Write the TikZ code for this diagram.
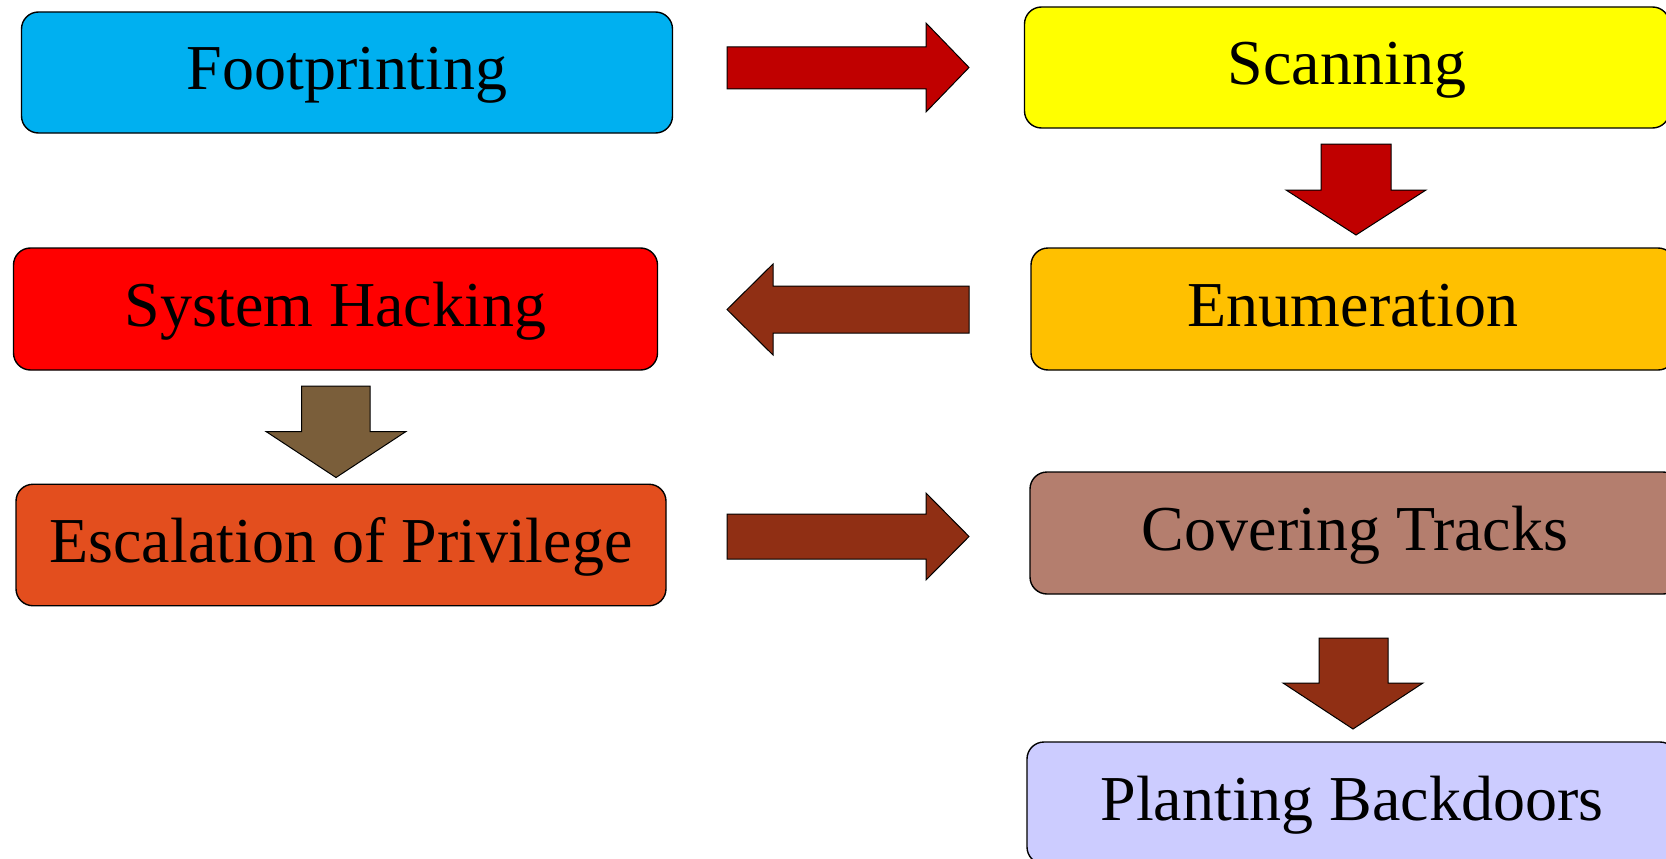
\documentclass[tikz,border=0pt]{standalone}
\usepackage{fontspec}
\setmainfont{Liberation Serif}
\definecolor{fpblue}{HTML}{00B0F0}
\definecolor{scyellow}{HTML}{FFFF00}
\definecolor{shred}{HTML}{FF0000}
\definecolor{enorange}{HTML}{FFC000}
\definecolor{eporange}{HTML}{E34E1E}
\definecolor{ctbrown}{HTML}{B47E6E}
\definecolor{pblav}{HTML}{CCCCFF}
\definecolor{arrred}{HTML}{C00000}
\definecolor{arrbrown}{HTML}{902F14}
\definecolor{arrolive}{HTML}{7A5E3A}
\tikzset{
  stage/.style={draw=black, line width=1.4pt, rounded corners=17pt,
    inner sep=0pt, text height=50pt, text depth=16pt,
    font=\fontsize{64}{70}\selectfont},
  blockarrow/.style={draw=black, line width=1pt, line join=miter}
}
\begin{document}
\begin{tikzpicture}[x=1pt,y=-1pt]
\useasboundingbox (0,0) rectangle (1666,859);
\clip (0,0) rectangle (1666,859);
\fill[white] (0,0) rectangle (1666,859);

% stage boxes
\node[stage, fill=fpblue,   minimum width=651pt, minimum height=121pt] (fp) at (347,72.5) {Footprinting};
\node[stage, fill=scyellow, minimum width=645pt, minimum height=121pt] (sc) at (1347,67.5) {Scanning};
\node[stage, fill=shred,    minimum width=644pt, minimum height=122pt] (sh) at (335.5,309) {System Hacking};
\node[stage, fill=enorange, minimum width=644pt, minimum height=122pt] (en) at (1353,309) {Enumeration};
\node[stage, fill=eporange, minimum width=650pt, minimum height=121.5pt] (ep) at (341,545) {Escalation of Privilege};
\node[stage, fill=ctbrown,  minimum width=650pt, minimum height=122pt] (ct) at (1355,533) {Covering Tracks};
\node[stage, fill=pblav,    minimum width=650pt, minimum height=122pt] (pb) at (1352,803) {Planting Backdoors};

% block arrows
% Footprinting -> Scanning
\draw[blockarrow, fill=arrred] (727,47) -- (926,47) -- (926,23) -- (969,67.5) -- (926,112) -- (926,89) -- (727,89) -- cycle;
% Scanning -> Enumeration
\draw[blockarrow, fill=arrred] (1321,144) -- (1391,144) -- (1391,190) -- (1426,190) -- (1356,235) -- (1286,190) -- (1321,190) -- cycle;
% Enumeration -> System Hacking
\draw[blockarrow, fill=arrbrown] (969,286) -- (773,286) -- (773,264) -- (727,309.5) -- (773,355) -- (773,333) -- (969,333) -- cycle;
% System Hacking -> Escalation
\draw[blockarrow, fill=arrolive] (301.5,386) -- (370,386) -- (370,431.5) -- (406,431.5) -- (336,477.5) -- (266,431.5) -- (301.5,431.5) -- cycle;
% Escalation -> Covering Tracks
\draw[blockarrow, fill=arrbrown] (727,514) -- (926,514) -- (926,493) -- (969,536.5) -- (926,580) -- (926,559) -- (727,559) -- cycle;
% Covering Tracks -> Planting Backdoors
\draw[blockarrow, fill=arrbrown] (1319,638) -- (1388,638) -- (1388,683) -- (1423,683) -- (1353,729) -- (1283,683) -- (1319,683) -- cycle;
\end{tikzpicture}
\end{document}
